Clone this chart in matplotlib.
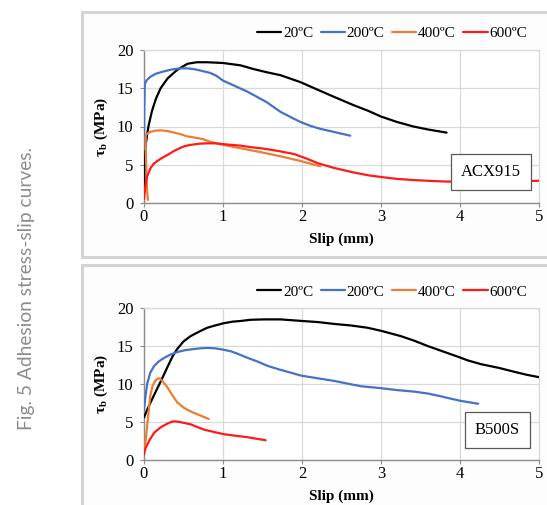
import matplotlib
matplotlib.use("Agg")
import matplotlib.pyplot as plt
from matplotlib.patches import Rectangle

plt.rcParams['font.family'] = ['Liberation Serif', 'DejaVu Serif']
plt.rcParams['mathtext.fontset'] = 'custom'
plt.rcParams['mathtext.rm'] = 'Liberation Serif'
plt.rcParams['mathtext.bf'] = 'Liberation Serif:bold'
plt.rcParams['mathtext.it'] = 'Liberation Serif:italic'

# ---------------- data: ACX915 (top) ----------------
acx_20_x = [0.0, 0.01, 0.02, 0.04, 0.06, 0.1, 0.15, 0.21, 0.3, 0.42, 0.55, 0.67, 0.8, 1.0, 1.22, 1.39,
            1.55, 1.73, 1.98, 2.2, 2.4, 2.65, 2.85, 3.0, 3.2, 3.41, 3.6, 3.83]
acx_20_y = [1.7, 4.5, 7.5, 9.0, 10.2, 12.0, 13.6, 15.0, 16.3, 17.4, 18.2, 18.4, 18.4, 18.3, 18.0, 17.5,
            17.1, 16.7, 15.8, 14.8, 13.9, 12.8, 12.0, 11.3, 10.6, 10.0, 9.6, 9.2]
acx_200_x = [0.0, 0.003, 0.01, 0.03, 0.08, 0.15, 0.25, 0.35, 0.46, 0.55, 0.63, 0.72, 0.84, 0.92, 1.0,
             1.15, 1.3, 1.39, 1.55, 1.73, 1.9, 1.98, 2.1, 2.23, 2.4, 2.61]
acx_200_y = [7.0, 12.0, 15.5, 16.0, 16.5, 16.9, 17.2, 17.45, 17.6, 17.6, 17.5, 17.3, 17.0, 16.6, 16.0,
             15.3, 14.6, 14.1, 13.2, 11.9, 11.0, 10.6, 10.1, 9.7, 9.3, 8.8]
acx_400_x = [0.05, 0.04, 0.03, 0.02, 0.03, 0.08, 0.14, 0.21, 0.3, 0.38, 0.46, 0.55, 0.67, 0.76, 0.84,
             0.92, 1.0, 1.15, 1.3, 1.5, 1.73, 1.98, 2.23]
acx_400_y = [0.4, 1.5, 4.0, 8.6, 9.0, 9.3, 9.45, 9.5, 9.4, 9.2, 9.0, 8.7, 8.5, 8.3, 8.0,
             7.8, 7.6, 7.3, 7.0, 6.6, 6.1, 5.5, 4.8]
acx_600_x = [0.0, 0.01, 0.02, 0.04, 0.08, 0.12, 0.17, 0.23, 0.3, 0.38, 0.46, 0.52, 0.59, 0.7, 0.8, 0.9,
             1.0, 1.1, 1.22, 1.35, 1.52, 1.7, 1.9, 2.06, 2.2, 2.4, 2.65, 2.85, 3.0, 3.2, 3.41, 3.6,
             3.83, 4.2, 4.6, 5.0]
acx_600_y = [0.5, 1.5, 2.5, 3.5, 4.5, 5.1, 5.5, 5.9, 6.3, 6.8, 7.2, 7.45, 7.6, 7.75, 7.8, 7.8,
             7.7, 7.6, 7.5, 7.3, 7.1, 6.8, 6.4, 5.8, 5.2, 4.6, 4.0, 3.6, 3.4, 3.15, 3.0, 2.9,
             2.8, 2.8, 2.85, 2.9]

# ---------------- data: B500S (bottom) ----------------
b500_20_x = [0.0, 0.04, 0.08, 0.13, 0.21, 0.3, 0.36, 0.42, 0.5, 0.59, 0.7, 0.8, 0.9, 1.01, 1.12, 1.23,
             1.35, 1.52, 1.73, 1.99, 2.2, 2.41, 2.62, 2.83, 3.0, 3.25, 3.42, 3.59, 3.78, 3.97, 4.1,
             4.27, 4.5, 4.69, 4.85, 5.0]
b500_20_y = [5.6, 6.6, 7.5, 8.6, 10.3, 12.3, 13.6, 14.6, 15.6, 16.3, 16.9, 17.4, 17.7, 18.0, 18.2, 18.3,
             18.45, 18.5, 18.5, 18.3, 18.15, 17.9, 17.7, 17.4, 17.0, 16.3, 15.7, 15.0, 14.3, 13.6, 13.1,
             12.6, 12.1, 11.6, 11.2, 10.9]
b500_200_x = [0.0, 0.02, 0.04, 0.08, 0.13, 0.19, 0.25, 0.33, 0.42, 0.52, 0.63, 0.72, 0.8, 0.9, 1.01,
              1.1, 1.18, 1.25, 1.31, 1.45, 1.56, 1.7, 1.82, 1.99, 2.2, 2.41, 2.6, 2.75, 3.0, 3.2,
              3.42, 3.59, 3.75, 3.85, 4.0, 4.23]
b500_200_y = [6.6, 8.5, 10.0, 11.5, 12.4, 13.0, 13.4, 13.85, 14.2, 14.45, 14.6, 14.7, 14.75, 14.7, 14.5,
              14.3, 14.0, 13.7, 13.45, 12.9, 12.4, 11.95, 11.6, 11.1, 10.75, 10.4, 10.0, 9.7, 9.45, 9.2,
              9.0, 8.75, 8.4, 8.15, 7.8, 7.4]
b500_400_x = [0.0, 0.02, 0.05, 0.08, 0.11, 0.14, 0.17, 0.2, 0.24, 0.3, 0.36, 0.42, 0.5, 0.55, 0.62,
              0.68, 0.75, 0.82]
b500_400_y = [1.0, 2.5, 5.5, 8.5, 9.8, 10.4, 10.7, 10.75, 10.3, 9.5, 8.5, 7.6, 6.9, 6.6, 6.25,
              6.0, 5.7, 5.4]
b500_600_x = [0.0, 0.01, 0.04, 0.08, 0.13, 0.21, 0.28, 0.33, 0.38, 0.45, 0.52, 0.59, 0.67, 0.76, 0.88,
              1.01, 1.15, 1.31, 1.45, 1.54]
b500_600_y = [0.7, 1.3, 2.0, 2.8, 3.6, 4.3, 4.7, 4.95, 5.1, 5.0, 4.85, 4.7, 4.35, 4.0, 3.7,
              3.4, 3.2, 3.0, 2.75, 2.6]

labels = ['20ºC', '200ºC', '400ºC', '600ºC']
colors = ['#000000', '#4472C4', '#ED7D31', '#FF1A1A']
x_ticks = [0, 1, 2, 3, 4, 5]
y_ticks = [0, 5, 10, 15, 20]
panel_names = ['ACX915', 'B500S']

panels = [
    [(acx_20_x, acx_20_y), (acx_200_x, acx_200_y), (acx_400_x, acx_400_y), (acx_600_x, acx_600_y)],
    [(b500_20_x, b500_20_y), (b500_200_x, b500_200_y), (b500_400_x, b500_400_y), (b500_600_x, b500_600_y)],
]

W, H = 547, 505
fig = plt.figure(figsize=(W / 100, H / 100), dpi=100)
fig.patch.set_facecolor('white')

# panel frames (pixel coords from top-left)
frames = [(82, 12, 600, 257), (82, 265, 600, 560)]
for (x0, y0, x1, y1) in frames:
    fig.add_artist(Rectangle((x0 / W, 1 - y1 / H), (x1 - x0) / W, (y1 - y0) / H,
                             transform=fig.transFigure, facecolor='#fdfdfd',
                             edgecolor='#d4d4d4', lw=2.2, zorder=0))

axes_px = [(144, 50, 539, 203), (144, 308, 539, 460)]
legend_y = [33, 292]
box_pos = [(4.39, 4.05), (4.47, 4.0)]

for i, (l, t, r, b) in enumerate(axes_px):
    ax = fig.add_axes([l / W, 1 - b / H, (r - l) / W, (b - t) / H])
    ax.set_facecolor('white')
    for (xs, ys), c, lab in zip(panels[i], colors, labels):
        ax.plot(xs, ys, color=c, lw=1.6, label=lab, solid_capstyle='round', zorder=3)
    ax.set_xlim(0, 5)
    ax.set_ylim(0, 20)
    ax.set_xticks(x_ticks)
    ax.set_yticks(y_ticks)
    ax.grid(True, color='#d9d9d9', lw=0.9, zorder=0)
    ax.set_axisbelow(True)
    for s in ['top', 'right']:
        ax.spines[s].set_color('#d9d9d9')
        ax.spines[s].set_linewidth(0.9)
    for s in ['left', 'bottom']:
        ax.spines[s].set_color('#8c8c8c')
        ax.spines[s].set_linewidth(1.0)
    ax.tick_params(axis='both', direction='out', length=3, color='#8c8c8c', labelsize=12)
    ax.tick_params(axis='x', pad=1.5)
    ax.tick_params(axis='y', pad=4.5)
    ax.set_xlabel('Slip (mm)', fontsize=11, fontweight='bold', labelpad=5)
    ax.set_ylabel(r'τ$_\mathbf{b}$ (MPa)', fontsize=11, fontweight='bold', labelpad=5)
    ax.legend(loc='center', bbox_to_anchor=(392 / W, 1 - legend_y[i] / H),
              bbox_transform=fig.transFigure, ncol=4, frameon=False, fontsize=11,
              handlelength=1.6, handletextpad=0.1, columnspacing=0.5)
    bx, by = box_pos[i]
    ax.text(bx, by, panel_names[i], fontsize=12, ha='center', va='center', zorder=5,
            bbox=dict(boxstyle='square,pad=0.6', facecolor='white', edgecolor='#595959', lw=0.9))

fig.text(27 / W, 1 - 288 / H, 'Fig. 5 Adhesion stress-slip curves.', rotation=90,
         ha='center', va='center', fontsize=13.8, color='#8c8c8c', fontweight='normal',
         family=['Lato', 'Open Sans', 'DejaVu Sans'])

fig.savefig('out.png', dpi=100)
